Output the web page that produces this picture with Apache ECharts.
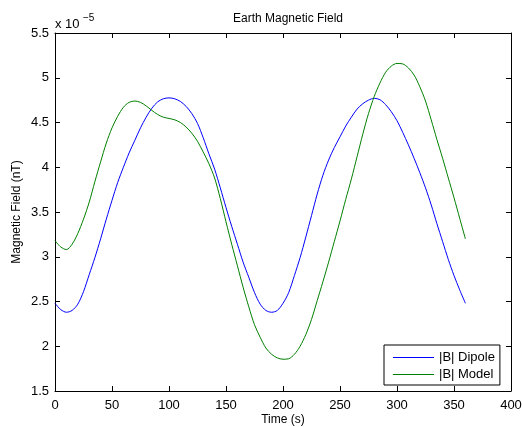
<!DOCTYPE html>
<html>
<head>
<meta charset="utf-8">
<script src="https://cdn.jsdelivr.net/npm/echarts@6/dist/echarts.min.js"></script>
<style>
html,body{margin:0;padding:0;background:#fff;}
#chart{width:522px;height:427px;}
</style>
</head>
<body>
<div id="chart"></div>
<script>
// Time samples (s)
const times = [0,5,10,15,20,25,30,35,40,45,50,55,60,65,70,75,80,85,90,95,100,105,110,115,120,125,130,135,140,145,150,155,160,165,170,175,180,185,190,195,200,205,210,215,220,225,230,235,240,245,250,255,260,265,270,275,280,285,290,295,300,305,310,315,320,325,330,335,340,345,350,355,360];
// |B| Dipole (x 10^-5)
const dipole = [2.48,2.41,2.38,2.40,2.47,2.61,2.80,2.99,3.20,3.42,3.63,3.83,4.00,4.16,4.30,4.44,4.56,4.66,4.73,4.765,4.775,4.765,4.735,4.68,4.60,4.49,4.33,4.15,3.98,3.77,3.55,3.34,3.14,2.94,2.77,2.60,2.47,2.40,2.38,2.40,2.48,2.60,2.79,2.99,3.22,3.46,3.70,3.91,4.08,4.22,4.34,4.46,4.56,4.65,4.71,4.75,4.77,4.755,4.70,4.62,4.52,4.39,4.25,4.10,3.94,3.77,3.58,3.37,3.17,2.97,2.79,2.63,2.48];
// |B| Model (x 10^-5)
const model = [3.18,3.11,3.08,3.14,3.26,3.42,3.61,3.84,4.06,4.27,4.44,4.57,4.67,4.725,4.74,4.725,4.685,4.635,4.59,4.56,4.545,4.53,4.50,4.45,4.38,4.29,4.17,4.04,3.88,3.65,3.39,3.14,2.90,2.66,2.44,2.24,2.10,1.98,1.91,1.87,1.855,1.86,1.91,2.00,2.13,2.30,2.51,2.72,2.94,3.17,3.40,3.64,3.87,4.12,4.37,4.60,4.79,4.94,5.06,5.13,5.16,5.155,5.11,5.03,4.90,4.74,4.53,4.31,4.10,3.88,3.66,3.43,3.20];
const xTicks = {min:0, max:400, step:50};
const yTicks = {min:1.5, max:5.5, step:0.5};
const seriesNames = ['|B| Dipole','|B| Model'];
const titleText = 'Earth Magnetic Field';
const xName = 'Time (s)';
const yName = 'Magnetic Field (nT)';

const font = 'Liberation Sans, Arial, Helvetica, sans-serif';
const chart = echarts.init(document.getElementById('chart'), null, {renderer:'canvas'});
const pair = arr => times.map((t,i)=>[t,arr[i]]);
const axisCommon = {
  type:'value',
  axisLine:{show:true, onZero:false, lineStyle:{color:'#000', width:1}},
  axisTick:{show:true, inside:true, length:5, lineStyle:{color:'#000'}},
  splitLine:{show:false}
};
chart.setOption({
  animation:false,
  backgroundColor:'#fff',
  title:{text:titleText, left:283, top:8, textAlign:'center',
    textStyle:{fontFamily:font, fontSize:12, fontWeight:'normal', color:'#000'}},
  grid:{left:55, right:11, top:33, bottom:36, containLabel:false, outerBoundsMode:'none'},
  xAxis:[
    Object.assign({}, axisCommon, {min:xTicks.min, max:xTicks.max, interval:xTicks.step, position:'bottom',
      axisLabel:{color:'#000', fontFamily:font, fontSize:13, margin:8},
      name:xName, nameLocation:'middle', nameGap:23, nameMoveOverlap:false,
      nameTextStyle:{color:'#000', fontFamily:font, fontSize:12}}),
    Object.assign({}, axisCommon, {min:xTicks.min, max:xTicks.max, interval:xTicks.step, position:'top',
      axisLabel:{show:false}})
  ],
  yAxis:[
    Object.assign({}, axisCommon, {min:yTicks.min, max:yTicks.max, interval:yTicks.step, position:'left',
      axisLabel:{color:'#000', fontFamily:font, fontSize:13, margin:6},
      name:yName, nameLocation:'middle', nameGap:32, nameMoveOverlap:false,
      nameTextStyle:{color:'#000', fontFamily:font, fontSize:12}}),
    Object.assign({}, axisCommon, {min:yTicks.min, max:yTicks.max, interval:yTicks.step, position:'right',
      axisLabel:{show:false}})
  ],
  legend:{
    data:seriesNames, orient:'vertical', left:384, top:345,
    backgroundColor:'#fff', borderColor:'#000', borderWidth:1,
    padding:[5,5,3,9], itemGap:2, itemWidth:41, itemHeight:1, icon:'rect',
    textStyle:{color:'#000', fontFamily:font, fontSize:13, lineHeight:15}
  },
  graphic:[
    {type:'text', left:55, top:18, style:{text:'x 10', fill:'#000', font:'13px '+font}},
    {type:'text', left:83, top:13, style:{text:'\u22125', fill:'#000', font:'10px '+font}}
  ],
  series:[
    {name:seriesNames[0], type:'line', data:pair(dipole), smooth:0.3, symbol:'none',
      lineStyle:{color:'#0000ff', width:1}, itemStyle:{color:'#0000ff'}},
    {name:seriesNames[1], type:'line', data:pair(model), smooth:0.3, symbol:'none',
      lineStyle:{color:'#008000', width:1}, itemStyle:{color:'#008000'}}
  ]
});
</script>
</body>
</html>
